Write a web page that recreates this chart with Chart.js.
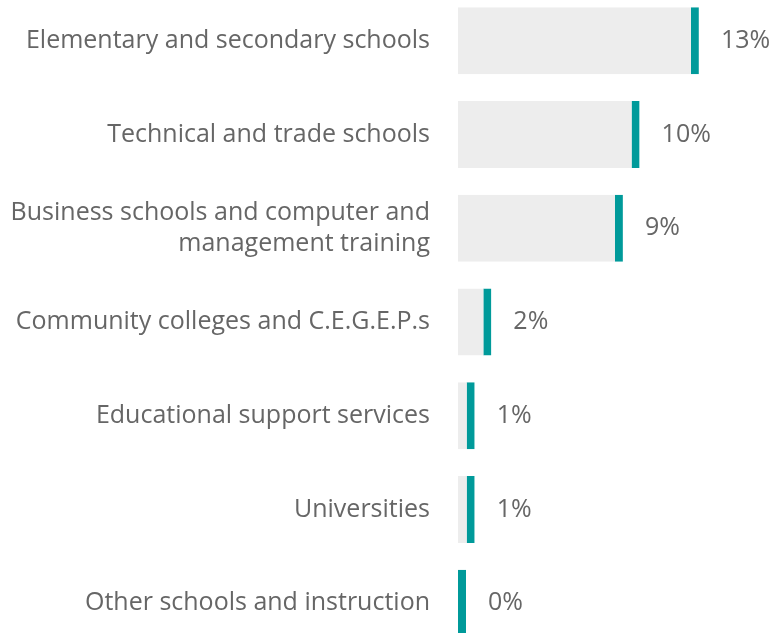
<!DOCTYPE html>
<html>
<head>
<meta charset="utf-8">
<script src="https://cdn.jsdelivr.net/npm/chart.js@4"></script>
<style>
  html, body { margin: 0; padding: 0; background: #ffffff; overflow: hidden; width: 773px; height: 633px; }
  #wrap { position: absolute; left: 0; top: -6px; width: 773px; height: 656px; }
</style>
</head>
<body>
<div id="wrap"><canvas id="c"></canvas></div>
<script>
const categories = [
  'Elementary and secondary schools',
  'Technical and trade schools',
  ['Business schools and computer and', 'management training'],
  'Community colleges and C.E.G.E.P.s',
  'Educational support services',
  'Universities',
  'Other schools and instruction'
];
const values = [13, 9.8, 8.9, 1.8, 0.9, 0.9, 0];
const valueLabels = ['13%', '10%', '9%', '2%', '1%', '1%', '0%'];

const TEAL = '#009a9a';
const GRAY = '#ededed';
const TEXT = '#666666';

const valueLabelPlugin = {
  id: 'valueLabels',
  afterDatasetsDraw(chart) {
    const ctx = chart.ctx;
    const meta = chart.getDatasetMeta(0);
    ctx.save();
    ctx.font = '25px "Open Sans"';
    ctx.fillStyle = TEXT;
    ctx.textAlign = 'left';
    ctx.textBaseline = 'middle';
    meta.data.forEach((bar, i) => {
      ctx.fillText(valueLabels[i], bar.x + 22, bar.y);
    });
    ctx.restore();
  }
};

function draw() {
  new Chart(document.getElementById('c'), {
    type: 'bar',
    data: {
      labels: categories,
      datasets: [{
        data: values,
        backgroundColor: values.map(v => v === 0 ? TEAL : GRAY),
        borderColor: TEAL,
        borderWidth: { top: 0, bottom: 0, left: 0, right: 8 },
        borderSkipped: false,
        minBarLength: 8,
        barThickness: 67,
        inflateAmount: 0
      }]
    },
    options: {
      indexAxis: 'y',
      responsive: true,
      maintainAspectRatio: false,
      animation: false,
      layout: { padding: 0 },
      plugins: { legend: { display: false }, tooltip: { enabled: false } },
      scales: {
        x: { display: false, min: 0, max: 17 },
        y: {
          grid: { display: false, drawTicks: false },
          border: { display: false },
          ticks: {
            padding: 28,
            color: TEXT,
            crossAlign: 'near',
            font: { family: '"Open Sans"', size: 25, lineHeight: 1.25 }
          },
          afterFit(scale) {
            scale.width = 458;
            scale.paddingTop = 0;
            scale.paddingBottom = 0;
          }
        }
      }
    },
    plugins: [valueLabelPlugin]
  });
}

if (document.fonts && document.fonts.load) {
  document.fonts.load('25px "Open Sans"').then(draw, draw);
} else {
  draw();
}
</script>
</body>
</html>
